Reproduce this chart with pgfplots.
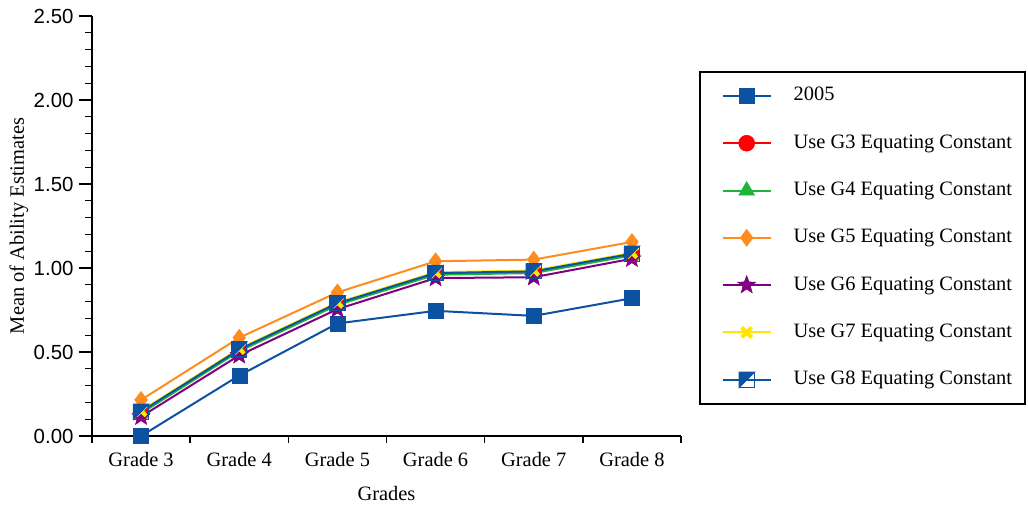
\documentclass[border=0pt]{standalone}
\usepackage{fontspec}
\setmainfont{Liberation Serif}
\newfontfamily\arialfont{Liberation Sans}
\usepackage{pgfplots}
\pgfplotsset{compat=1.18}
\definecolor{cblue}{RGB}{12,82,160}
\definecolor{cred}{RGB}{255,0,0}
\definecolor{cgreen}{RGB}{30,180,60}
\definecolor{corange}{RGB}{255,140,30}
\definecolor{cpurple}{RGB}{128,0,128}
\definecolor{cyellow}{RGB}{255,230,0}
\pgfdeclareplotmark{halfsq}{%
 \pgfpathmoveto{\pgfqpoint{-\pgfplotmarksize}{-\pgfplotmarksize}}%
 \pgfpathlineto{\pgfqpoint{\pgfplotmarksize}{\pgfplotmarksize}}%
 \pgfpathlineto{\pgfqpoint{-\pgfplotmarksize}{\pgfplotmarksize}}%
 \pgfpathclose
 \pgfusepathqfillstroke
 \pgfpathrectangle{\pgfqpoint{-\pgfplotmarksize}{-\pgfplotmarksize}}{\pgfqpoint{2\pgfplotmarksize}{2\pgfplotmarksize}}%
 \pgfusepathqstroke
}
\pgfdeclareplotmark{fstar}{%
 \pgfpathmoveto{\pgfpointpolar{90}{\pgfplotmarksize}}%
 \pgfpathlineto{\pgfpointpolar{126}{0.42\pgfplotmarksize}}%
 \pgfpathlineto{\pgfpointpolar{162}{\pgfplotmarksize}}%
 \pgfpathlineto{\pgfpointpolar{198}{0.42\pgfplotmarksize}}%
 \pgfpathlineto{\pgfpointpolar{234}{\pgfplotmarksize}}%
 \pgfpathlineto{\pgfpointpolar{270}{0.42\pgfplotmarksize}}%
 \pgfpathlineto{\pgfpointpolar{306}{\pgfplotmarksize}}%
 \pgfpathlineto{\pgfpointpolar{342}{0.42\pgfplotmarksize}}%
 \pgfpathlineto{\pgfpointpolar{18}{\pgfplotmarksize}}%
 \pgfpathlineto{\pgfpointpolar{54}{0.42\pgfplotmarksize}}%
 \pgfpathclose
 \pgfusepathqfillstroke
}
\begin{document}
\begin{tikzpicture}
\begin{axis}[
 name=ax,
 scale only axis,
 width=589bp, height=420bp,
 xmin=-0.5, xmax=5.5, ymin=0, ymax=2.5,
 axis lines=left,
 axis line style={line width=2bp,-},
 xtick={0,1,2,3,4,5},
 xticklabels={Grade 3,Grade 4,Grade 5,Grade 6,Grade 7,Grade 8},
 minor xtick={-0.5,0.5,1.5,2.5,3.5,4.5,5.5},
 ytick={0,0.5,1,1.5,2,2.5},
 minor ytick={0.1,0.2,0.3,0.4,0.6,0.7,0.8,0.9,1.1,1.2,1.3,1.4,1.6,1.7,1.8,1.9,2.1,2.2,2.3,2.4},
 tick align=outside,
 major tick length=13bp,
 minor tick length=7bp,
 x tick style={draw=none},
 minor x tick style={draw=black,line width=1.5bp},
 y tick style={line width=1.2bp,black},
 minor y tick style={line width=1.2bp,black},
 y tick label style={font=\arialfont\fontsize{20.5}{24}\selectfont, /pgf/number format/fixed, /pgf/number format/fixed zerofill, /pgf/number format/precision=2, /pgf/number format/assume math mode=true, xshift=-2bp},
 x tick label style={font=\fontsize{20.5}{24}\selectfont, yshift=0bp},
 tick label style={/pgf/number format/assume math mode=true},
 xlabel={Grades},
 ylabel={Mean of Ability Estimates},
 label style={font=\fontsize{20.5}{24}\selectfont},
 xlabel style={at={(axis description cs:0.5,-0.138)},anchor=center},
 ylabel style={at={(axis description cs:-0.124,0.5)},anchor=center,rotate=0},
 clip=false,
 every axis plot/.append style={line width=2bp},
 legend cell align=left,
 legend image code/.code={%
   \node[inner sep=0pt,minimum size=0pt] at (-11bp,0bp) {};
   \draw[mark repeat=2,mark phase=2] plot coordinates {(0bp,0bp) (24bp,0bp) (48bp,0bp)};},
 legend style={at={(axis description cs:1.5857,0.869)}, anchor=north east,
   draw=black, line width=1.8bp, font=\fontsize{20.5}{24}\selectfont,
   inner xsep=13bp, inner ysep=14bp,
   nodes={inner sep=0bp, text height=15bp, text depth=5bp},
   row sep=27.3bp,
   /tikz/every odd column/.append style={column sep=22bp}},
]
\addplot[cblue, mark=square*, mark size=7.5bp, mark options={solid,fill=cblue,line width=0.5bp}] coordinates {(0,0.00) (1,0.36) (2,0.67) (3,0.745) (4,0.715) (5,0.82)};
\addlegendentry{2005}
\addplot[cred, mark=*, mark size=8bp, mark options={solid,fill=cred,line width=0.5bp}] coordinates {(0,0.14) (1,0.51) (2,0.785) (3,0.965) (4,0.975) (5,1.08)};
\addlegendentry{Use G3 Equating Constant}
\addplot[cgreen, mark=triangle*, mark size=9bp, mark options={solid,fill=cgreen,line width=0.5bp}] coordinates {(0,0.135) (1,0.505) (2,0.78) (3,0.96) (4,0.97) (5,1.075)};
\addlegendentry{Use G4 Equating Constant}
\addplot[corange, mark=diamond*, mark size=8.5bp, mark options={solid,fill=corange,line width=0.5bp}] coordinates {(0,0.215) (1,0.585) (2,0.855) (3,1.04) (4,1.05) (5,1.155)};
\addlegendentry{Use G5 Equating Constant}
\addplot[cpurple, mark=fstar, mark size=9.5bp, mark options={solid,fill=cpurple,line width=0.5bp}] coordinates {(0,0.115) (1,0.48) (2,0.755) (3,0.94) (4,0.945) (5,1.055)};
\addlegendentry{Use G6 Equating Constant}
\addplot[cyellow, mark=x, mark size=7bp, mark options={solid,line width=4bp}] coordinates {(0,0.15) (1,0.52) (2,0.795) (3,0.975) (4,0.985) (5,1.09)};
\addlegendentry{Use G7 Equating Constant}
\addplot[cblue, mark=halfsq, mark size=7.5bp, mark options={solid,fill=cblue,line width=1.2bp}] coordinates {(0,0.145) (1,0.515) (2,0.79) (3,0.97) (4,0.98) (5,1.085)};
\addlegendentry{Use G8 Equating Constant}
\end{axis}
\path[use as bounding box] ([xshift=-92bp,yshift=-73bp]ax.south west) rectangle ([xshift=347bp,yshift=16bp]ax.north east);
\end{tikzpicture}
\end{document}
